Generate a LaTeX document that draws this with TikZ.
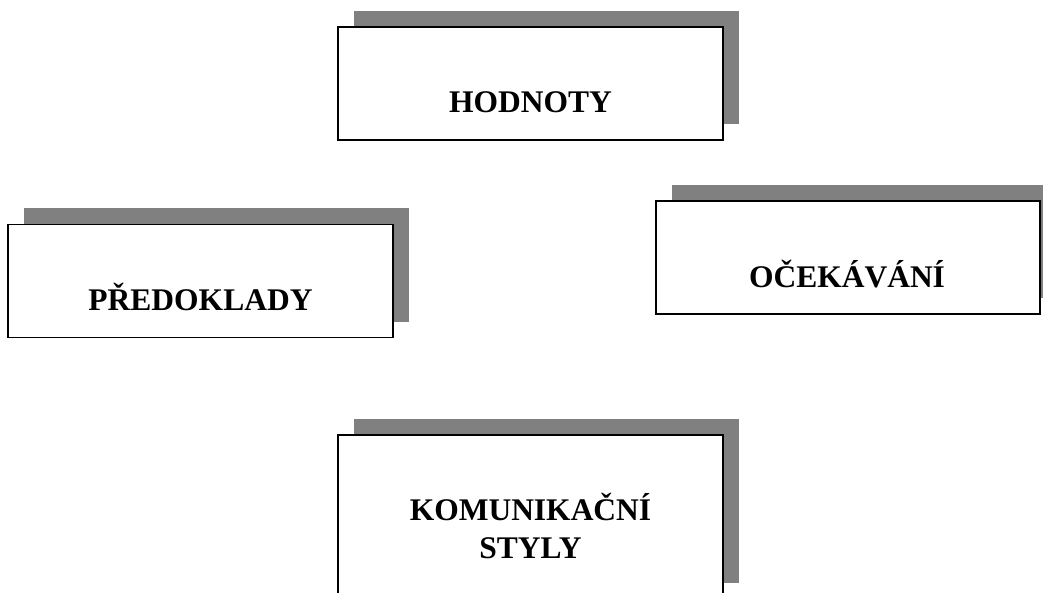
\documentclass[tikz,border=0pt]{standalone}
\usepackage{fontspec}
\setmainfont{Liberation Serif}
\usetikzlibrary{backgrounds}
\definecolor{shadowgray}{RGB}{128,128,128}
\tikzset{
  box/.style={draw=black, line width=1.6pt, fill=white, inner sep=0pt, outer sep=0pt,
              minimum width=385pt, minimum height=113pt},
  lbl/.style={font=\bfseries\fontsize{31.5}{38}\selectfont, inner sep=0pt, align=center},
  shade/.style={fill=shadowgray}
}
\begin{document}
\begin{tikzpicture}[x=1pt,y=-1pt]
\useasboundingbox (0,0) rectangle (1043,593);
\clip (0,0) rectangle (1043,593);
% boxes
\node[box] (h) at (530.5,83.5) {};
\node[box] (p) at (200.5,281) {};
\node[box, minimum width=384pt] (o) at (848,257.5) {};
\node[box, minimum height=164pt] (k) at (530.5,517) {};
% shadows
\begin{scope}[on background layer]
  \foreach \n in {h,p,o,k}{
    \fill[shade] ([xshift=16pt,yshift=16pt]\n.south west) rectangle ([xshift=16pt,yshift=16pt]\n.north east);
  }
\end{scope}
% texts
\node[lbl, anchor=base] (ht) at (530.5,113) {HODNOTY};
\node[lbl, anchor=base] (pt) at (200.5,310) {PŘEDOKLADY};
\node[lbl, anchor=base] (ot) at (847,288) {OČEKÁVÁNÍ};
\node[lbl, anchor=base] (kt) at (530.5,558) {KOMUNIKAČNÍ\\STYLY};
\end{tikzpicture}
\end{document}
